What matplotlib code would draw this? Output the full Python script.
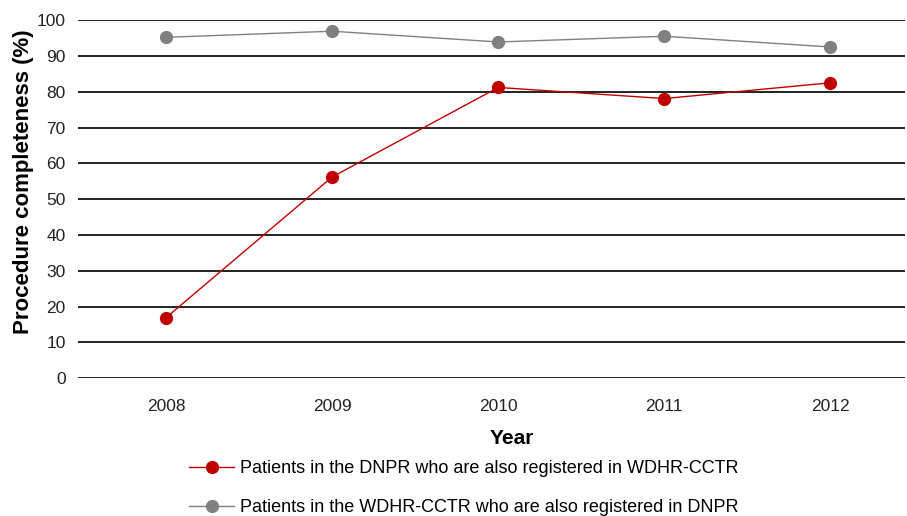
import matplotlib
matplotlib.use("Agg")
import matplotlib.pyplot as plt
from matplotlib import font_manager

plt.rcParams["font.family"] = ["Liberation Sans", "DejaVu Sans"]

years = ["2008", "2009", "2010", "2011", "2012"]
dnpr_in_wdhr = [16.9, 56.2, 81.2, 78.1, 82.5]
wdhr_in_dnpr = [95.2, 96.9, 93.9, 95.5, 92.5]

names = {f.name for f in font_manager.fontManager.ttflist}
narrow = "Liberation Sans Narrow" if "Liberation Sans Narrow" in names else "Liberation Sans"

fig = plt.figure(figsize=(9.07, 5.16), dpi=100)
ax = fig.add_axes([0.086, 0.267, 0.912, 0.694])

x = range(len(years))
ax.plot(x, dnpr_in_wdhr, color="#c00000", lw=1.0, marker="o", ms=8.5,
        label="Patients in the DNPR who are also registered in WDHR-CCTR")
ax.plot(x, wdhr_in_dnpr, color="#808080", lw=1.0, marker="o", ms=8.5,
        label="Patients in the WDHR-CCTR who are also registered in DNPR")

ax.set_ylim(0, 100)
ax.set_yticks(range(0, 101, 10))
ax.set_xlim(-0.53, 4.45)
ax.set_xticks(list(x))
ax.set_xticklabels(years, family=narrow, fontsize=12.5)
ax.grid(axis="y", color="#111111", lw=1.3)
ax.set_axisbelow(True)
for s in ax.spines.values():
    s.set_visible(False)
ax.tick_params(length=0, colors="#222222")
ax.tick_params(axis="y", labelsize=12.5, pad=9)
ax.tick_params(axis="x", pad=15)

ax.set_xlabel("Year", fontsize=15, fontweight="bold", va="center")
ax.xaxis.set_label_coords(0.525, -0.168)
ax.set_ylabel("Procedure completeness (%)", fontsize=16, fontweight="bold", va="center")
ax.yaxis.set_label_coords(-0.066, 0.55)

fig.legend(loc="center", bbox_to_anchor=(464 / 907, 1 - 488 / 516), frameon=False,
           fontsize=13, labelspacing=1.2, handlelength=2.45, handletextpad=0.35)

fig.savefig("out.png", dpi=100)
